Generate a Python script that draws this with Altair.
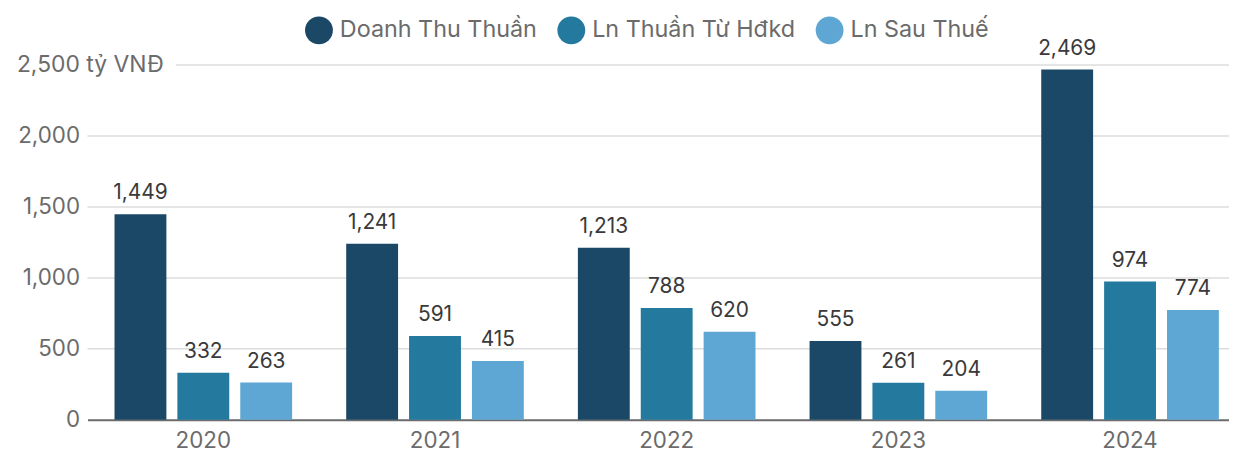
import altair as alt
import pandas as pd

years = ["2020", "2021", "2022", "2023", "2024"]
series = ["Doanh Thu Thuần", "Ln Thuần Từ Hđkd", "Ln Sau Thuế"]
revenue = [1449, 1241, 1213, 555, 2469]
op_profit = [332, 591, 788, 261, 974]
net_profit = [263, 415, 620, 204, 774]
grid_values = [500, 1000, 1500, 2000]
top_value = [2500]
colors = ["#1b4866", "#23799e", "#5ea6d3"]

rows = []
for i, yr in enumerate(years):
    for s, vals in zip(series, [revenue, op_profit, net_profit]):
        rows.append({"year": yr, "series": s, "value": vals[i]})
df = pd.DataFrame(rows)

W, H = 1149, 357
FONT = "Inter"
GRAY = "#6b6b6b"

yscale = alt.Scale(domain=[0, 2500], nice=False)
xscale = alt.Scale(range=[0, 1166], paddingInner=0, paddingOuter=0)
xoscale = alt.Scale(paddingInner=0.175, paddingOuter=0.43)

y_axis = alt.Axis(title=None, grid=False, domain=False, ticks=False,
                  values=[0] + grid_values, format=",d", labelFontSize=22.5,
                  labelColor=GRAY, labelPadding=8, labelFont=FONT)
x_axis = alt.Axis(title=None, labelAngle=0, ticks=False, domain=True,
                  domainColor=GRAY, domainWidth=2, labelFontSize=22.5,
                  labelColor=GRAY, labelPadding=10, labelFont=FONT)

grid = alt.Chart(pd.DataFrame({"value": grid_values})).mark_rule(
    color="#dcdcdc", strokeWidth=1.5
).encode(y=alt.Y("value:Q", scale=yscale, axis=y_axis, title=None),
         x=alt.value(0), x2=alt.value(W))

top_grid = alt.Chart(pd.DataFrame({"value": top_value})).mark_rule(
    color="#dcdcdc", strokeWidth=1.5
).encode(y=alt.Y("value:Q", scale=yscale, axis=y_axis, title=None),
         x=alt.value(89), x2=alt.value(W))

top_label = alt.Chart(pd.DataFrame({"value": top_value})).mark_text(
    align="left", baseline="middle", font=FONT, fontSize=23, color=GRAY
).encode(y=alt.Y("value:Q", scale=yscale, axis=y_axis, title=None),
         x=alt.value(-71), text=alt.value("2,500 tỷ VNĐ"))

bars = alt.Chart(df).mark_bar().encode(
    x=alt.X("year:N", scale=xscale, sort=years, axis=x_axis, title=None),
    xOffset=alt.XOffset("series:N", sort=series, scale=xoscale),
    y=alt.Y("value:Q", scale=yscale, axis=y_axis, title=None),
    color=alt.Color(
        "series:N", sort=series,
        scale=alt.Scale(domain=series, range=colors),
        legend=alt.Legend(title=None, orient="none", legendX=219, legendY=-49,
                          direction="horizontal", symbolType="circle",
                          symbolSize=784, symbolStrokeWidth=0, symbolOpacity=1,
                          labelFontSize=23.5, labelFont=FONT, labelColor=GRAY,
                          labelLimit=400, columnPadding=20, labelOffset=7,
                          padding=0),
    ),
)

labels = alt.Chart(df).mark_text(
    baseline="alphabetic", dy=-15, font=FONT, fontSize=21, color="#3a3a3a"
).encode(
    x=alt.X("year:N", scale=xscale, sort=years, axis=x_axis, title=None),
    xOffset=alt.XOffset("series:N", sort=series, scale=xoscale),
    y=alt.Y("value:Q", scale=yscale, axis=y_axis, title=None),
    text=alt.Text("value:Q", format=",d"),
)

chart = alt.layer(grid, top_grid, top_label, bars, labels).properties(
    width=W, height=H,
    padding={"left": 80, "top": 56, "right": 0, "bottom": 32},
    autosize=alt.AutoSizeParams(type="none"),
    background="white",
).configure_view(stroke=None)

chart.save("out.html", embed_options={"renderer": "svg", "actions": False})
